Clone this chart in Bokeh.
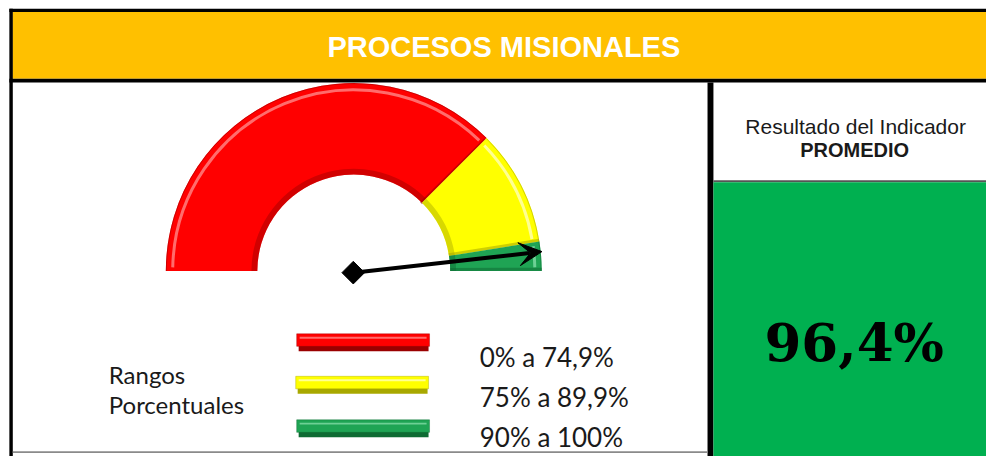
import numpy as np
from bokeh.plotting import figure
from bokeh.models import Range1d, Arrow, VeeHead
from bokeh.core.properties import value
from bokeh.embed import file_html
from bokeh.resources import INLINE

# ---------------- data ----------------
title_text = "PROCESOS MISIONALES"
range_labels = ["0% a 74,9%", "75% a 89,9%", "90% a 100%"]
band_spans = [75, 20, 5]          # share of the half dial drawn for each band
band_colors = ["#FF0000", "#FFFF00", "#1FA454"]
band_dark = ["#9A0000", "#A8A800", "#0E6B33"]
band_light = ["#FF9A9A", "#FFFFD0", "#8FE3B0"]
indicator_value = 96.4
indicator_label = "96,4%"
panel_title = "Resultado del Indicador"
panel_subtitle = "PROMEDIO"
legend_title = ["Rangos", "Porcentuales"]

W, H = 986, 456
def Y(py):
    return 472 - py

p = figure(width=W, height=H, x_range=Range1d(0, 1002), y_range=Range1d(0, 472),
           output_backend="svg", toolbar_location=None, min_border=0)
p.axis.visible = False
p.grid.visible = False
p.outline_line_color = None
p.background_fill_color = "white"
p.border_fill_color = "white"

# ---------------- frame ----------------
p.quad(left=12, right=1002, top=Y(12), bottom=Y(81), fill_color="#FFC000", line_color=None)
p.quad(left=9, right=1002, top=Y(8.5), bottom=Y(12), fill_color="black", line_color=None)
p.quad(left=9, right=12.5, top=Y(8.5), bottom=Y(472), fill_color="black", line_color=None)
p.quad(left=9, right=1002, top=Y(81), bottom=Y(85), fill_color="black", line_color=None)
p.quad(left=718.5, right=724.5, top=Y(85), bottom=Y(472), fill_color="black", line_color=None)
p.quad(left=724.5, right=1002, top=Y(186), bottom=Y(188), fill_color="#555555", line_color=None)
p.quad(left=724.5, right=1002, top=Y(188), bottom=Y(472), fill_color="#00B050", line_color=None)
p.quad(left=12.5, right=718.5, top=Y(466.5), bottom=Y(468.5), fill_color="#8a8a8a", line_color=None)

p.text(x=[511.5], y=[Y(48.5)], text=[title_text], text_color="white",
       text_font=value("Liberation Sans"), text_font_style="bold", text_font_size="29px",
       text_align="center", text_baseline="alphabetic")

# ---------------- gauge ----------------
cx, cy = 359, Y(280)
r_in, r_out = 98, 191
edges = np.cumsum([0] + band_spans) / 100.0
angles = np.pi * (1 - edges)   # pi -> 0, clockwise
for i in range(len(band_spans)):
    a0, a1 = angles[i], angles[i + 1]
    p.annular_wedge(x=cx, y=cy, inner_radius=r_in, outer_radius=r_out,
                    start_angle=a1, end_angle=a0, direction="anticlock",
                    fill_color=band_colors[i], line_color=None)
    # inner shade
    p.annular_wedge(x=cx, y=cy, inner_radius=r_in, outer_radius=r_in + 6,
                    start_angle=a1, end_angle=a0, direction="anticlock",
                    fill_color=band_dark[i], fill_alpha=0.45, line_color=None)
    # outer highlight
    p.arc(x=cx, y=cy, radius=r_out - 7, start_angle=a1 + 0.02, end_angle=a0 - 0.02,
          direction="anticlock", line_color=band_light[i], line_width=3, line_alpha=0.7)
    p.arc(x=cx, y=cy, radius=r_out - 0.5, start_angle=a1, end_angle=a0,
          direction="anticlock", line_color=band_dark[i], line_width=1, line_alpha=0.5)
    # end shading at the clockwise end
    xs = [cx + r_in * np.cos(a1 + 0.015), cx + r_out * np.cos(a1 + 0.01)]
    ys = [cy + r_in * np.sin(a1 + 0.015), cy + r_out * np.sin(a1 + 0.01)]
    p.line(x=xs, y=ys, line_color=band_dark[i], line_width=3, line_alpha=0.55)

# needle
theta = np.pi * (1 - indicator_value / 100.0)
nx, ny = 358.5, Y(281.7)
L = 193
p.add_layout(Arrow(x_start=nx, y_start=ny, x_end=nx + L * np.cos(theta), y_end=ny + L * np.sin(theta),
                   line_width=4, line_color="black",
                   end=VeeHead(size=23, fill_color="black", line_color="black")))
p.scatter(x=[nx], y=[ny], marker="square", angle=np.pi / 4, size=16,
          fill_color="black", line_color="black")

# ---------------- legend ----------------
bar_tops = [345, 389, 434]
bar_lefts = [301, 300, 301]
for i in range(3):
    t = bar_tops[i]
    l = bar_lefts[i]
    p.quad(left=l + 2, right=l + 134, top=Y(t + 12), bottom=Y(t + 18),
           fill_color=band_dark[i], line_color=None)
    p.quad(left=l, right=l + 135, top=Y(t), bottom=Y(t + 13),
           fill_color=band_colors[i], line_color=band_dark[i], line_width=1, line_alpha=0.4)
    p.quad(left=l + 3, right=l + 132, top=Y(t + 3), bottom=Y(t + 5),
           fill_color=band_light[i], fill_alpha=0.7, line_color=None)

p.text(x=[487, 487, 487], y=[Y(369), Y(410), Y(452)], text=range_labels,
       text_color="#1a1a1a", text_font=value("Lato"), text_font_size="26px",
       text_align="left", text_baseline="alphabetic")
p.text(x=[110, 110], y=[Y(387), Y(418)], text=legend_title,
       text_color="#1a1a1a", text_font=value("Lato"), text_font_size="24px",
       text_align="left", text_baseline="alphabetic")

# ---------------- right panel ----------------
p.text(x=[869], y=[Y(130)], text=[panel_title], text_color="#1a1a1a",
       text_font=value("Liberation Sans"), text_font_size="21px",
       text_align="center", text_baseline="alphabetic")
p.text(x=[868], y=[Y(155)], text=[panel_subtitle], text_color="#1a1a1a",
       text_font=value("Liberation Sans"), text_font_style="bold", text_font_size="20px",
       text_align="center", text_baseline="alphabetic")
p.text(x=[867.5], y=[Y(353)], text=[indicator_label], text_color="black",
       text_font=value("DejaVu Serif"), text_font_style="bold", text_font_size="53px",
       text_align="center", text_baseline="alphabetic")

open("out.html", "w").write(file_html(p, INLINE))
